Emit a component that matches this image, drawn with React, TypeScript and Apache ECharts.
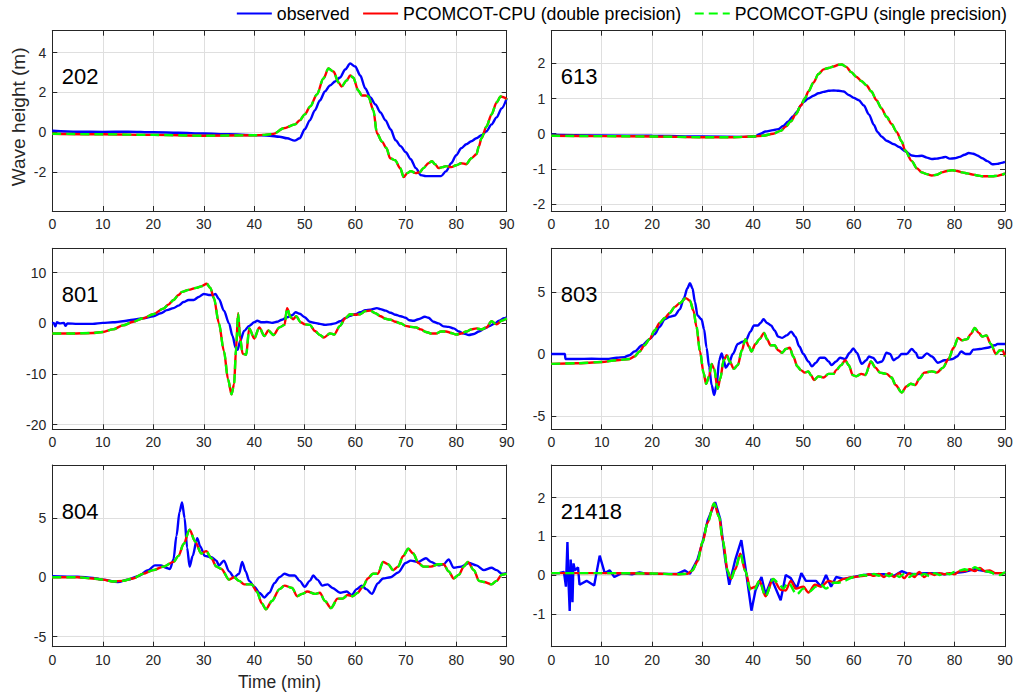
import { useEffect, useRef } from "react";
import * as echarts from "echarts";

// ---------------- data ----------------
const SERIES_NAMES = ["observed", "PCOMCOT-CPU (double precision)", "PCOMCOT-GPU (single precision)"];
const SERIES_COLORS = ["#0000ff", "#ff0000", "#00ff00"];
const STATION_LABELS = ["202", "613", "801", "803", "804", "21418"];
const X_LIMITS = [0, 90];
const X_STEP = 10;
const Y_LIMITS = [[-3.95, 5.1], [-2.2, 2.93], [-20.9, 14.8], [-6.07, 8.52], [-5.85, 9.46], [-1.85, 2.84]];
const Y_TICKS = [[-2, 0, 2, 4], [-2, -1, 0, 1, 2], [-20, -10, 0, 10], [-5, 0, 5], [-5, 0, 5], [-1, 0, 1, 2]];

const obs202 = [[0,0.08],[5,0.03],[10,0.02],[15,0.03],[20,0],[25,-0.02],[30,-0.06],[35,-0.1],[40,-0.14],[43,-0.17],[45,-0.22],[46.5,-0.3],[48,-0.42],[49,-0.3],[50,0.15],[51,0.6],[52,1.1],[53,1.6],[54,2.05],[55,2.35],[56,2.55],[57,2.75],[58,3.15],[59,3.45],[60,3.3],[61,2.85],[62,2.2],[63,1.75],[64,1.4],[65,1.0],[66,0.6],[67,0.15],[68,-0.4],[69,-0.7],[70,-1.0],[71,-1.35],[72,-1.8],[73,-2.15],[74,-2.2],[75,-2.2],[76,-2.2],[77,-2.2],[78,-1.95],[79,-1.55],[80,-1.15],[81,-0.8],[82,-0.6],[83,-0.45],[84,-0.3],[85,-0.15],[86,0.05],[87,0.4],[88,0.75],[89,1.2],[90,1.7]];
const cpu202 = [[0,-0.07],[10,-0.1],[20,-0.13],[30,-0.17],[40,-0.15],[42,-0.13],[43.8,-0.08],[45.8,0.2],[48.1,0.4],[49,0.6],[50,0.9],[51.1,1.3],[52.4,1.9],[53.7,2.7],[54.7,3.2],[55.7,3.05],[56.7,2.5],[57.3,2.3],[58.3,2.6],[59,2.85],[59.6,2.75],[60.6,2.1],[61.3,1.85],[62,1.85],[62.6,1.8],[63.6,1.1],[64.3,-0.05],[65.3,-0.47],[66.2,-0.8],[66.9,-1.3],[67.9,-1.4],[68.9,-1.8],[69.6,-2.25],[70.3,-2.05],[71,-1.95],[72,-2.05],[72.8,-2.0],[73.5,-1.8],[74.5,-1.55],[75.2,-1.45],[75.8,-1.6],[76.5,-1.8],[77.3,-1.75],[78,-1.7],[79,-1.75],[80,-1.65],[81,-1.55],[82,-1.6],[83,-1.3],[84,-1.1],[84.5,-0.7],[85,-0.3],[86,0.3],[87,0.9],[88,1.5],[88.8,1.8],[89.5,1.75],[90,1.65]];
const gpu202 = cpu202;

const obs613 = [[0,-0.03],[10,-0.05],[20,-0.06],[30,-0.08],[38,-0.09],[40.4,-0.08],[41.5,0],[42.5,0.06],[44,0.1],[45,0.13],[46,0.22],[47,0.35],[48,0.5],[48.7,0.62],[49.5,0.8],[50,0.9],[51,1.0],[52,1.08],[53,1.15],[54,1.19],[55,1.22],[56,1.23],[57,1.22],[58,1.2],[59,1.1],[60,1.02],[61,0.95],[62,0.8],[63,0.55],[64,0.25],[64.7,0.05],[65.5,-0.08],[66.5,-0.2],[68,-0.3],[69,-0.38],[70.2,-0.5],[71.5,-0.62],[72.5,-0.64],[73.5,-0.63],[74.5,-0.68],[75.5,-0.72],[76.5,-0.71],[77.5,-0.68],[78.2,-0.66],[79,-0.71],[80,-0.7],[81,-0.66],[82,-0.6],[82.8,-0.55],[83.7,-0.57],[84.5,-0.62],[85.5,-0.7],[86.5,-0.78],[87.5,-0.87],[88.5,-0.86],[89.3,-0.83],[90,-0.8]];
const cpu613 = [[0,-0.06],[10,-0.07],[20,-0.08],[30,-0.1],[36,-0.1],[40,-0.08],[42,-0.06],[44,0],[45.5,0.08],[46.5,0.2],[47.5,0.35],[48.5,0.55],[49.5,0.8],[50.3,1.0],[51,1.2],[52,1.45],[53,1.7],[54,1.83],[55,1.87],[56,1.91],[57,1.96],[57.6,1.97],[58.5,1.9],[59.5,1.75],[60.5,1.62],[61.5,1.5],[62.5,1.38],[63.5,1.2],[64.5,0.95],[65.5,0.72],[66.5,0.48],[67.5,0.28],[68.5,0.05],[69.5,-0.22],[70.2,-0.48],[71.5,-0.78],[72.5,-0.98],[73.5,-1.1],[74.5,-1.15],[75.5,-1.19],[76.5,-1.17],[77.5,-1.1],[78.5,-1.06],[79.5,-1.04],[80.5,-1.06],[81.5,-1.1],[82.5,-1.13],[83.5,-1.16],[84.5,-1.19],[85.5,-1.21],[86.5,-1.21],[87.5,-1.21],[88.5,-1.2],[89.5,-1.16],[90,-1.13]];
const gpu613 = cpu613;

const obs801 = [[0,0],[0.3,0.1],[0.6,-0.6],[0.9,0.2],[1.5,0],[2.3,0.1],[2.6,-0.5],[3,0],[5,-0.1],[8,-0.1],[10,0.1],[12,0.2],[14,0.4],[16,0.7],[18,1.0],[20,1.4],[21.5,2.0],[22.7,2.6],[24,3.0],[25,3.5],[26,4.2],[27,4.6],[28,4.6],[29,5.2],[30,5.8],[31,5.6],[31.8,5.6],[32.3,5.8],[33,4.8],[34,2.5],[35,0],[35.7,-2.5],[36.3,-4.8],[36.7,-5.2],[37.2,-3.5],[38,-1.5],[39,-0.5],[40,0.2],[40.6,0.5],[41.5,0.2],[42.5,0.25],[43.5,0.1],[44.5,0.3],[45.5,0.7],[46.5,1.2],[47.5,1.6],[48.2,2.2],[49,1.9],[50,1.2],[51,0.3],[52,0.1],[53,-0.1],[54,-0.3],[55,-0.2],[56,0],[57,0.4],[58,1.0],[59,1.5],[60,1.8],[61,2.2],[62,2.6],[63,2.7],[64.3,3.0],[65,2.8],[66,2.5],[67,2.1],[68,1.7],[69,1.4],[70,1.1],[70.7,0.6],[71.5,0.5],[72.5,0.8],[73.8,1.3],[74.5,1.1],[75.5,0.3],[76.5,0],[77.5,-0.6],[78.5,-0.7],[79.5,-1.0],[80.5,-1.6],[81.5,-2.0],[82.5,-2.3],[83.5,-2.1],[84.5,-1.6],[85.5,-1.1],[86.5,-0.6],[87.5,-0.1],[88.5,0.5],[89.5,1.0],[90,1.2]];
const cpu801 = [[0,-2.0],[4,-2.0],[8,-1.9],[10,-1.7],[12,-1.2],[14,-0.4],[16,0.3],[18,1.0],[20,1.8],[22,2.9],[23,3.7],[24,4.6],[25,5.6],[25.7,6.2],[27,6.6],[28.5,7.0],[29.5,7.3],[30.6,7.8],[31.3,7.0],[32,5.0],[33,0],[34,-5.5],[34.8,-11],[35.5,-14.0],[36,-12],[36.4,-5],[36.8,2.0],[37.2,-3],[37.7,-6.0],[38.4,-6.2],[39,-1.0],[40,-3.0],[41,-0.8],[42,-2.5],[42.8,-1.4],[43.8,-2.3],[45,-0.8],[46,-0.3],[46.5,3.0],[47.2,1.2],[47.7,0.8],[48.3,1.4],[49.2,0.2],[50,-0.2],[51,-0.3],[52,-1.5],[53,-2.3],[53.8,-2.8],[55,-2.0],[55.8,-2.2],[57,-0.5],[58,1.0],[59,1.8],[60,1.7],[61,1.8],[62,2.4],[63,2.5],[64,2.0],[65,1.4],[66,0.9],[67,0.7],[68,0.3],[69,0],[70,-0.5],[71,-0.7],[72,-0.8],[73,-1.2],[74,-1.7],[75,-2.0],[76,-2.0],[77,-1.6],[78,-1.6],[79,-1.9],[80,-2.2],[81,-2.0],[82,-1.6],[83,-1.2],[84,-1.0],[85,-1.2],[86,-0.8],[87,0.4],[88,-0.2],[89,0.5],[90,1.0]];
const gpu801 = cpu801;

const obs803 = [[0,0],[2.7,0],[2.8,-0.4],[5,-0.4],[8,-0.38],[11,-0.4],[13,-0.3],[14.5,-0.25],[15.5,-0.1],[16.5,0.2],[18,0.7],[19.5,1.2],[20.5,1.6],[21.5,2.2],[22.5,2.8],[23.5,3.0],[24.5,3.1],[25.5,3.6],[26.3,4.5],[27,5.3],[27.5,5.7],[28,5.3],[28.5,4.2],[29,3.1],[29.8,2.8],[30.3,2.0],[30.8,0.5],[31.3,-1.0],[31.8,-2.5],[32.3,-3.3],[32.8,-2.5],[33.3,-0.5],[33.8,0.05],[34.2,-0.5],[34.6,-1.1],[35.2,-0.8],[36,0],[37,0.8],[38,1.0],[38.6,1.1],[39.5,1.8],[40.2,2.3],[41,2.3],[41.5,2.5],[42.1,2.8],[42.8,2.5],[43.6,2.3],[44.3,1.9],[45,1.4],[45.8,1.3],[46.7,1.5],[47.6,1.8],[48.4,1.4],[49.2,0.6],[50,0],[51,-0.6],[51.7,-1.0],[52.5,-0.7],[53.3,-0.3],[54.2,-0.3],[55,-0.6],[55.6,-0.9],[56.5,-0.6],[57.3,-0.3],[58.3,-0.4],[59.2,0.1],[59.9,0.45],[60.6,0.1],[61.6,-0.8],[62.5,-0.5],[63,-0.2],[63.8,-0.3],[64.7,-0.7],[65.6,-0.6],[66.5,0.1],[67.2,0],[67.9,-0.5],[68.7,-0.3],[69.5,0],[70.5,0],[71.5,0.4],[72.3,0.1],[72.8,-0.3],[73.5,-0.3],[74.5,0.05],[75.5,-0.2],[76.7,-0.7],[78,-0.5],[79.6,-0.4],[80.5,-0.2],[81.3,0.2],[82.2,0],[83,0],[83.7,0.35],[85,0.4],[86.5,0.5],[88,0.7],[88.5,0.8],[90,0.8]];
const cpu803 = [[0,-0.8],[5,-0.75],[10,-0.65],[13,-0.5],[15.5,-0.4],[16.5,-0.2],[17.5,0.2],[18.5,0.7],[19.5,1.2],[20.5,1.9],[21.5,2.5],[22.5,2.9],[23.5,3.3],[24.5,3.8],[25.5,4.1],[26.7,4.5],[27.5,4.3],[28.2,3.5],[28.8,2.2],[29.5,0.2],[30.2,-1.5],[30.7,-2.4],[31.3,-1.8],[31.8,-0.8],[32.3,-1.2],[33,-2.8],[33.5,-2.0],[34.2,-0.5],[34.8,-0.1],[35.4,-0.6],[36.2,-1.2],[37,-0.9],[37.8,0.3],[38.5,1.2],[39.2,0.6],[39.7,0.2],[40.5,0.8],[41.3,1.2],[42.2,1.7],[42.8,1.2],[43.5,0.7],[44.3,0.7],[45,0.3],[45.8,0.1],[46.5,0.4],[47.3,0.5],[48,-0.2],[48.8,-1.0],[49.5,-1.3],[50.3,-1.5],[51,-1.4],[51.5,-1.7],[52.1,-2.1],[53,-1.8],[54,-1.9],[55,-1.6],[56,-1.6],[56.5,-1.3],[57.5,-0.9],[58.3,-0.5],[59,-0.9],[59.8,-1.7],[60.5,-1.8],[61.5,-1.6],[62.3,-1.7],[63.4,-0.6],[64.3,-1.1],[65.2,-1.5],[66.5,-1.6],[67.5,-1.9],[68.3,-2.5],[69.5,-3.1],[70.5,-2.6],[71.3,-2.4],[72.2,-2.5],[73,-2.0],[74,-1.5],[75.5,-1.4],[76.5,-1.5],[77.7,-1.1],[78.8,-0.4],[79.8,0.5],[80.7,1.3],[81.5,1.1],[82.5,1.2],[83.2,1.6],[84,2.1],[84.8,1.7],[85.5,1.4],[86.3,1.5],[87.2,0.8],[88.2,0],[89,0.3],[89.5,0.3],[90,-0.2]];
const gpu803 = cpu803;

const obs804 = [[0,0.1],[5,0.05],[8,-0.05],[10,-0.2],[13,-0.4],[15,-0.2],[17,0.1],[19,0.6],[20.3,1.0],[21.5,1.0],[22.5,0.8],[23.3,0.7],[24,1.5],[24.6,3.5],[25.2,5.5],[25.7,6.3],[26.2,5.0],[26.7,2.5],[27.2,0.9],[27.8,1.8],[28.7,3.3],[29.3,2.6],[30.2,1.8],[31.5,1.7],[32.5,1.4],[33,1.0],[34,1.4],[35,0.5],[36,0],[37,0.3],[37.6,1.3],[38.3,0.5],[39,-0.3],[40,-0.8],[41,-1.3],[42,-1.7],[43,-1.3],[44,-0.5],[45,0],[46,0.3],[47,0.15],[48,0.15],[49,-0.3],[50,-0.8],[51,-0.3],[51.7,0.15],[52.5,-0.2],[53.5,-0.7],[54.5,-0.6],[55.5,-0.9],[57,-1.3],[58.3,-1.2],[59.3,-1.5],[60.3,-1.0],[61.3,-0.7],[62.2,-1.0],[63.3,-1.4],[64.5,-0.5],[65.5,-0.1],[67,0],[68.5,0.4],[70,1.2],[71,1.4],[72.5,1.3],[74,1.6],[75,1.3],[76.5,1.0],[77.5,1.1],[78.5,1.5],[79.5,0.8],[81,0.9],[82.5,1.2],[84,1.0],[85.5,0.6],[87,0.8],[88,0.6],[89,0.3],[90,0.35]];
const cpu804 = [[0,0],[5,0],[8,-0.1],[10,-0.2],[12,-0.35],[14,-0.3],[16,-0.1],[18,0.3],[20,0.6],[22,0.9],[24,1.3],[25,1.8],[26,2.8],[27.2,4.0],[28.3,3.0],[29.5,2.0],[30.5,2.2],[31.5,1.6],[32.5,0.9],[33.5,0.7],[35,-0.2],[36,0],[37,-0.3],[38,-0.6],[39.5,-0.6],[40.5,-1.2],[41.5,-2.2],[42.3,-2.7],[43.5,-2.0],[45,-1.0],[46,-0.7],[47.5,-0.9],[48.5,-1.6],[49.5,-1.4],[50.5,-1.2],[52,-1.4],[53,-1.3],[54,-2.0],[55.2,-2.6],[56.5,-1.8],[57.5,-1.8],[58.5,-1.5],[59.5,-1.6],[60.5,-1.3],[61.5,-0.8],[62.5,-0.1],[63.5,0.3],[64.5,0.3],[65.5,1.3],[66.5,1.1],[67.5,0.6],[68.5,0.9],[69.5,1.8],[70.5,2.4],[71.5,2.0],[72.5,1.2],[73.5,0.9],[75,0.9],[76.5,1.1],[77.5,1.1],[78.5,0.5],[79.5,-0.1],[80.5,0.2],[81.5,0.9],[82.3,1.3],[83.5,0.6],[84.5,-0.3],[85.5,-0.4],[87,-0.6],[88,-0.3],[89,0.2],[90,0.3]];
const gpu804 = cpu804;

const obs21418 = [[0,0.05],[1.5,0.05],[2.5,0.08],[2.9,-0.3],[3.2,0.85],[3.45,-0.3],[3.65,-0.93],[3.85,0.4],[4.05,-0.2],[4.2,-0.7],[4.4,0.3],[4.7,0.12],[5.3,0.2],[5.6,-0.25],[7,-0.15],[8.5,-0.27],[9.6,0.5],[10.6,0.05],[11.6,0.12],[12.5,-0.05],[14,0.05],[16,0.02],[17.5,0.07],[19,0.03],[25,0.03],[26.5,0.12],[27.5,0.03],[29,0.4],[30,0.85],[31,1.4],[32.5,1.88],[33.5,1.45],[34.5,0.4],[35.3,-0.25],[36.5,0.4],[37.7,0.9],[38.5,0.2],[39.7,-0.92],[40.5,-0.4],[41.7,-0.05],[42.5,-0.5],[43.7,-0.1],[45.5,-0.65],[46.5,0],[47.5,-0.08],[48.7,-0.35],[49.6,0.05],[50.5,-0.15],[52.5,-0.15],[53.5,-0.3],[54.5,0],[55.5,-0.3],[56.5,-0.05],[58,-0.1],[60,-0.05],[62,0],[64,0.02],[66,0.02],[68,-0.02],[69.5,0.1],[70.5,0.05],[72,0.02],[74,0.05],[76,0.05],[78,0.02],[80,0.05],[82,0.08],[84,0.15],[86,0.1],[88,0.05],[90,0.05]];
const cpu21418 = [[0,0.05],[10,0.05],[20,0.04],[25,0.02],[27,0.03],[28,0.12],[29,0.35],[30,0.85],[31,1.35],[32.3,1.85],[33.3,1.5],[34,0.9],[35,0.1],[35.6,-0.1],[36.5,0.15],[37.5,0.55],[38.5,0.1],[39.5,-0.35],[40.5,-0.3],[41.3,-0.15],[42.5,-0.55],[44,-0.1],[45.5,-0.38],[46.5,-0.4],[47.5,-0.15],[48.5,-0.35],[50,-0.3],[51,-0.45],[52.3,-0.25],[53.5,-0.3],[55,-0.15],[56.5,-0.2],[58,-0.1],[60,-0.05],[62,-0.02],[63,0.02],[64,-0.02],[65,0.03],[66,-0.05],[67,0.05],[68,-0.05],[69,0.05],[70,-0.08],[71,0.05],[72,-0.05],[73,0.08],[74,-0.05],[75,0.05],[76,0],[77,0.05],[78,0.02],[79,0.05],[80,0.02],[81,0.1],[82,0.1],[83,0.15],[84,0.1],[85,0.18],[86,0.1],[87,0.12],[88,0.05],[89,0.05],[90,0.05]];
const gpu21418 = [[0,0.05],[10,0.05],[20,0.04],[25,0.02],[27,0.03],[28,0.12],[29,0.35],[30,0.85],[31,1.35],[32.3,1.85],[33.3,1.5],[34,0.9],[35,0.1],[35.6,-0.12],[36.5,0.15],[37.5,0.55],[38.5,0.1],[39.5,-0.4],[40.3,-0.38],[41.3,-0.15],[42.5,-0.55],[44,-0.1],[45,-0.2],[46,-0.35],[47,-0.2],[48.7,-0.5],[50,-0.35],[51.3,-0.42],[52.5,-0.3],[53.5,-0.25],[54.5,-0.35],[56,-0.2],[57,-0.2],[58,-0.15],[60,-0.05],[62,0],[63,-0.03],[64,0.03],[65,-0.02],[66,0.03],[67,-0.03],[68,0.05],[69,-0.05],[70,0.03],[71,-0.05],[72,0.03],[73,-0.03],[74,0.03],[75,-0.03],[76,0.05],[77,0],[78,0.05],[79,0.02],[80,0.08],[81,0.12],[82,0.15],[83,0.12],[84,0.2],[85,0.15],[86,0.1],[87,0.08],[88,0.02],[89,0],[90,0.08]];

const OBSERVED = [obs202, obs613, obs801, obs803, obs804, obs21418];
const CPU = [cpu202, cpu613, cpu801, cpu803, cpu804, cpu21418];
const GPU = [gpu202, gpu613, gpu801, gpu803, gpu804, gpu21418];

// ---------------- layout / style ----------------
const FONT = "'Liberation Sans', Arial, Helvetica, sans-serif";
const AX = "#262626";
const GRIDC = "#dfdfdf";
const COL_LEFT = [52.3, 551.3];
const COL_WIDTH = [454.4, 453.7];
const ROW_TOP = [30.7, 248.3, 465];
const ROW_HEIGHT = [180.3, 181, 181.7];

function buildOption() {
  const grid: any[] = [];
  const xAxis: any[] = [];
  const yAxis: any[] = [];
  const series: any[] = [];
  const graphic: any[] = [];

  for (let i = 0; i < 6; i++) {
    const col = i % 2;
    const row = Math.floor(i / 2);
    const left = COL_LEFT[col];
    const top = ROW_TOP[row];
    grid.push({ left, top, width: COL_WIDTH[col], height: ROW_HEIGHT[row], containLabel: false, outerBoundsMode: "none" });

    const axisLine = { show: true, onZero: false, lineStyle: { color: AX, width: 1 } };
    const axisTickBase = { show: true, inside: true, length: 5, lineStyle: { color: AX, width: 1 } };

    xAxis.push({
      type: "value", gridIndex: i, min: X_LIMITS[0], max: X_LIMITS[1], interval: X_STEP, position: "bottom",
      axisLine, axisTick: axisTickBase,
      axisLabel: { show: true, margin: 6, fontSize: 14, color: AX, fontFamily: FONT },
      splitLine: { show: true, lineStyle: { color: GRIDC, width: 1 } },
      name: i === 4 ? "Time (min)" : "", nameLocation: "middle", nameGap: 26,
      nameTextStyle: { fontSize: 17.5, color: AX, fontFamily: FONT },
    });
    xAxis.push({
      type: "value", gridIndex: i, min: X_LIMITS[0], max: X_LIMITS[1], interval: X_STEP, position: "top",
      axisLine, axisTick: axisTickBase, axisLabel: { show: false }, splitLine: { show: false },
    });
    const ticks = Y_TICKS[i];
    yAxis.push({
      type: "value", gridIndex: i, min: Y_LIMITS[i][0], max: Y_LIMITS[i][1], position: "left",
      axisLine, axisTick: { ...axisTickBase, customValues: ticks },
      axisLabel: { show: true, customValues: ticks, margin: 6, fontSize: 14, color: AX, fontFamily: FONT },
      splitLine: { show: true, lineStyle: { color: GRIDC, width: 1 } },
      name: i === 0 ? "Wave height (m)" : "", nameLocation: "middle", nameGap: 24,
      nameTextStyle: { fontSize: 19, color: AX, fontFamily: FONT, padding: [0, 0, 0, 8] },
    });
    yAxis.push({
      type: "value", gridIndex: i, min: Y_LIMITS[i][0], max: Y_LIMITS[i][1], position: "right",
      axisLine, axisTick: { ...axisTickBase, customValues: ticks },
      axisLabel: { show: false, customValues: ticks }, splitLine: { show: false },
    });

    const sets = [OBSERVED[i], CPU[i], GPU[i]];
    sets.forEach((data, k) => {
      series.push({
        type: "line", name: SERIES_NAMES[k], xAxisIndex: 2 * i, yAxisIndex: 2 * i, data,
        symbol: "none", showSymbol: false,
        smooth: k === 0 && i === 5 ? false : 0.3,
        smoothMonotone: "x",
        color: SERIES_COLORS[k],
        itemStyle: { color: SERIES_COLORS[k] },
        lineStyle: { color: SERIES_COLORS[k], width: 2.4, type: k === 2 ? [9, 5] : "solid" },
        z: 2 + k, silent: true,
      });
    });

    graphic.push({
      type: "text", x: left + 9.5, y: top + 46, silent: true, z: 100,
      style: { text: STATION_LABELS[i], fontSize: 22, fontFamily: FONT, fill: "#000", align: "left", verticalAlign: "middle" },
    });
  }

  return {
    animation: false,
    backgroundColor: "#ffffff",
    legend: {
      data: SERIES_NAMES, top: 4.5, right: 6, padding: 0, itemWidth: 35, itemHeight: 14, itemGap: 12.5,
      selectedMode: false, itemStyle: { opacity: 0 },
      textStyle: { fontSize: 17.7, color: "#000", fontFamily: FONT },
    },
    grid, xAxis, yAxis, series, graphic,
  };
}

export default function App() {
  const ref = useRef<HTMLDivElement>(null);
  useEffect(() => {
    if (!ref.current) return;
    const chart = echarts.init(ref.current, null, { renderer: "svg" });
    chart.setOption(buildOption() as any);
    return () => chart.dispose();
  }, []);
  return <div ref={ref} style={{ position: "fixed", left: 0, top: 0, width: 1013, height: 696, background: "#fff" }} />;
}
